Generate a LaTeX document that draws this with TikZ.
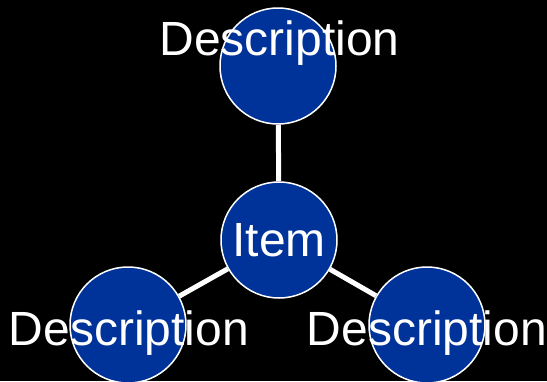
\documentclass[tikz,border=0pt]{standalone}
\usepackage{fontspec}
\setmainfont{Liberation Sans}
\definecolor{itemblue}{RGB}{0,51,153}
\begin{document}
\begin{tikzpicture}[x=1pt,y=-1pt,
	bubble/.style={circle,draw=white,line width=1.5pt,fill=itemblue,minimum size=116pt,inner sep=0pt},
	desc/.style={anchor=base,text=white,inner sep=0pt,font=\fontsize{48}{52}\selectfont},
	link/.style={draw=white,line width=5pt}]
	% background
	\fill[black] (0,0) rectangle (547,381);
	\useasboundingbox (0,0) rectangle (547,381);
	% draw the circles
	\node[bubble] (item) at (279,240) {};
	\node[bubble] (top) at (278,66) {};
	\node[bubble] (left) at (128,325) {};
	\node[bubble] (right) at (427,325) {};
	% draw the links
	\draw[link] (item) -- (top);
	\draw[link] (item) -- (left);
	\draw[link] (item) -- (right);
	% draw the texts
	\node[desc] (itemtext) at (279,256) {Item};
	\node[desc] (toptext) at (279.5,55) {Description};
	\node[desc] (lefttext) at (129,345.5) {Description};
	\node[desc] (righttext) at (427,345.5) {Description};
\end{tikzpicture}
\end{document}
